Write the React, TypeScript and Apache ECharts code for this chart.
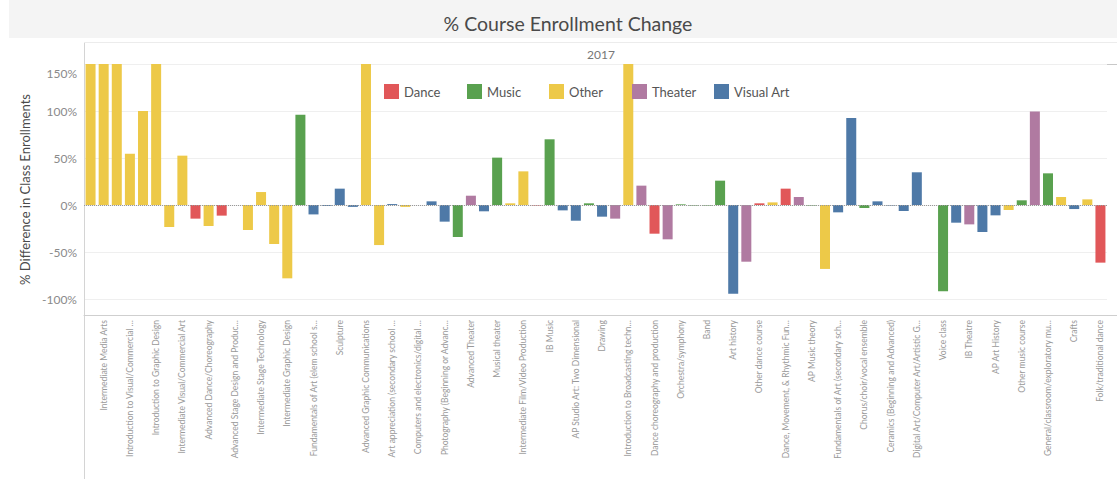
import React, { useEffect, useRef } from "react";
import * as echarts from "echarts";

const categories: string[] = [
  "Advanced Media Arts", "Intermediate Media Arts", "Introduction to Media Arts", "Introduction to Visual/Commercial …",
  "Advanced Visual/Commercial Art", "Introduction to Graphic Design", "Advanced Stage Technology", "Intermediate Visual/Commercial Art",
  "Intermediate Dance/Choreography", "Advanced Dance/Choreography", "Introduction to Dance/Choreography", "Advanced Stage Design and Produc…",
  "Introduction to Stage Technology", "Intermediate Stage Technology", "Advanced Graphic Design", "Intermediate Graphic Design",
  "Jazz ensemble", "Fundamentals of Art (elem school s…", "Painting", "Sculpture",
  "Printmaking", "Advanced Graphic Communications", "Introduction to Graphic Communications", "Art appreciation (secondary school …",
  "Computer graphics", "Computers and electronics/digital …", "Design", "Photography (Beginning or Advanc…",
  "Music appreciation", "Advanced Theater", "Visual arts, other", "Musical theater",
  "Introduction to Film/Video Production", "Intermediate Film/Video Production", "Dance technique", "IB Music",
  "AP Studio Art: Drawing", "AP Studio Art: Two Dimensional", "Music theory", "Drawing",
  "Theater arts", "Introduction to Broadcasting techn…", "Drama/stagecraft", "Dance choreography and production",
  "Acting", "Orchestra/symphony", "Instrumental music", "Band",
  "Guitar", "Art history", "Playwriting", "Other dance course",
  "Advanced Film/Video Production", "Dance, Movement, & Rhythmic Fun…", "Technical theater", "AP Music theory",
  "Advanced Broadcasting", "Fundamentals of Art (secondary sch…", "Studio art", "Chorus/choir/vocal ensemble",
  "Jewelry/metalwork", "Ceramics (Beginning and Advanced)", "AP Studio Art: Three Dimensional", "Digital Art/Computer Art/Artistic G…",
  "IB Visual Arts", "Voice class", "Mixed media", "IB Theatre",
  "AP Studio Art: 2-D Design", "AP Art History", "Animation", "Other music course",
  "Other theater course", "General/classroom/exploratory mu…", "Video game design", "Crafts",
  "Web design", "Folk/traditional dance",
];

const types: string[] = [
  "Other", "Other", "Other", "Other", "Other", "Other", "Other", "Other",
  "Dance", "Other", "Dance", "Other", "Other", "Other", "Other", "Other",
  "Music", "Visual Art", "Visual Art", "Visual Art", "Visual Art", "Other", "Other", "Visual Art",
  "Other", "Visual Art", "Visual Art", "Visual Art", "Music", "Theater", "Visual Art", "Music",
  "Other", "Other", "Dance", "Music", "Visual Art", "Visual Art", "Music", "Visual Art",
  "Theater", "Other", "Theater", "Dance", "Theater", "Music", "Music", "Music",
  "Music", "Visual Art", "Theater", "Dance", "Other", "Dance", "Theater", "Music",
  "Other", "Visual Art", "Visual Art", "Music", "Visual Art", "Visual Art", "Visual Art", "Visual Art",
  "Visual Art", "Music", "Visual Art", "Theater", "Visual Art", "Visual Art", "Other", "Music",
  "Theater", "Music", "Other", "Visual Art", "Other", "Dance",
];

const values: number[] = [
  150, 150, 150, 54.6, 100, 150, -23.4, 52.5,
  -14.5, -22.3, -11.3, 0, -26.6, 13.8, -41.5, -78,
  96, -10, -1, 17.4, -2, 150, -42.6, 1,
  -2, 0, 3.9, -17.7, -34, 9.9, -6.7, 50.4,
  1.8, 35.8, -0.5, 69.9, -5.7, -16.7, 1.8, -12.4,
  -14.5, 150, 20.6, -30.5, -36.5, 0.7, -0.5, -0.5,
  25.9, -94.3, -60.3, 1.8, 2.8, 17.4, 8.5, -0.5,
  -68, -7.8, 92.6, -3.2, 3.9, -0.5, -6.4, 34.8,
  0, -91.8, -18.8, -20.6, -28.7, -11, -5.3, 5,
  99.6, 33.7, 8.5, -4.3, 6, -61.3,
];

const seriesNames: string[] = ["Dance", "Music", "Other", "Theater", "Visual Art"];
const seriesColors: string[] = ["#e15759", "#59a14f", "#edc948", "#b07aa1", "#4e79a7"];
const yTicks: number[] = [-100, -50, 0, 50, 100, 150];

const FONT = "Lato, 'Open Sans', sans-serif";

export default function App() {
  const ref = useRef<HTMLDivElement>(null);
  useEffect(() => {
    document.body.style.margin = "0";
    if (!ref.current) return;
    const chart = echarts.init(ref.current, undefined, { renderer: "svg" });
    const series: any[] = seriesNames.map((name, si) => ({
      name,
      type: "bar",
      stack: "all",
      barWidth: 10,
      itemStyle: { color: seriesColors[si] },
      data: values.map((v, i) => (types[i] === name ? v : "-")),
      markLine:
        si === 0
          ? {
              silent: true,
              symbol: ["none", "none"],
              label: { show: false },
              lineStyle: { type: "dotted", color: "#999", width: 1 },
              data: [{ yAxis: 0 }],
            }
          : undefined,
    }));
    const legendLeft = [384, 467, 549, 632, 714];
    const legends = seriesNames.map((name, i) => ({
      left: legendLeft[i],
      top: 84,
      padding: 0,
      itemWidth: 15,
      itemHeight: 15,
      icon: "rect",
      data: [name],
      textStyle: { fontSize: 13, color: "#555", fontFamily: FONT },
    }));
    chart.setOption({
      animation: false,
      textStyle: { fontFamily: FONT },
      title: {
        text: "% Course Enrollment Change",
        left: 563,
        top: 8,
        textAlign: "center",
        textStyle: { fontSize: 19.5, fontWeight: "normal", color: "#4a4a4a", fontFamily: FONT },
      },
      legend: legends,
      grid: { left: 84, right: 10, top: 64, bottom: 164, containLabel: false },
      xAxis: {
        type: "category",
        data: categories,
        axisLine: { onZero: false, lineStyle: { color: "#cfcfcf" } },
        axisTick: { show: false },
        axisLabel: {
          rotate: 90,
          interval: (index: number) => index % 2 === 1,
          fontSize: 8.5,
          color: "#999",
          margin: 5,
          fontFamily: FONT,
        },
      },
      yAxis: {
        type: "value",
        min: -117,
        max: 150,
        name: "% Difference in Class Enrollments",
        nameLocation: "middle",
        nameGap: 50,
        nameTextStyle: { fontSize: 13, color: "#4a4a4a", fontFamily: FONT },
        axisLine: { show: true, lineStyle: { color: "#d4d4d4" } },
        axisTick: { show: false, customValues: yTicks },
        splitLine: { show: true, lineStyle: { color: "#efefef" } },
        axisLabel: {
          customValues: yTicks,
          margin: 7,
          fontSize: 12,
          color: "#8a8a8a",
          fontFamily: FONT,
          formatter: (v: number) => (v === 150 ? "{t|150%}" : v + "%"),
          rich: { t: { fontSize: 12, color: "#8a8a8a", padding: [18, 0, 0, 0] } },
        },
      },
      graphic: [
        { type: "rect", z: -10, shape: { x: 9, y: 0, width: 1108, height: 38 }, style: { fill: "#f4f4f4" } },
        { type: "line", shape: { x1: 84.5, y1: 42, x2: 84.5, y2: 479 }, style: { stroke: "#d4d4d4", lineWidth: 1 } },
        { type: "line", shape: { x1: 84, y1: 42.5, x2: 1117, y2: 42.5 }, style: { stroke: "#ececec", lineWidth: 1 } },
        { type: "line", shape: { x1: 84, y1: 64.5, x2: 1117, y2: 64.5 }, style: { stroke: "#c8c8c8", lineWidth: 1 } },
        { type: "line", shape: { x1: 84, y1: 315.5, x2: 1117, y2: 315.5 }, style: { stroke: "#cfcfcf", lineWidth: 1 } },
        {
          type: "text",
          x: 601,
          y: 54,
          style: { text: "2017", fontSize: 12, fill: "#777", textAlign: "center", textVerticalAlign: "middle", fontFamily: FONT },
        },
      ],
      series,
    });
    return () => chart.dispose();
  }, []);
  return <div ref={ref} style={{ width: 1117, height: 479 }} />;
}
